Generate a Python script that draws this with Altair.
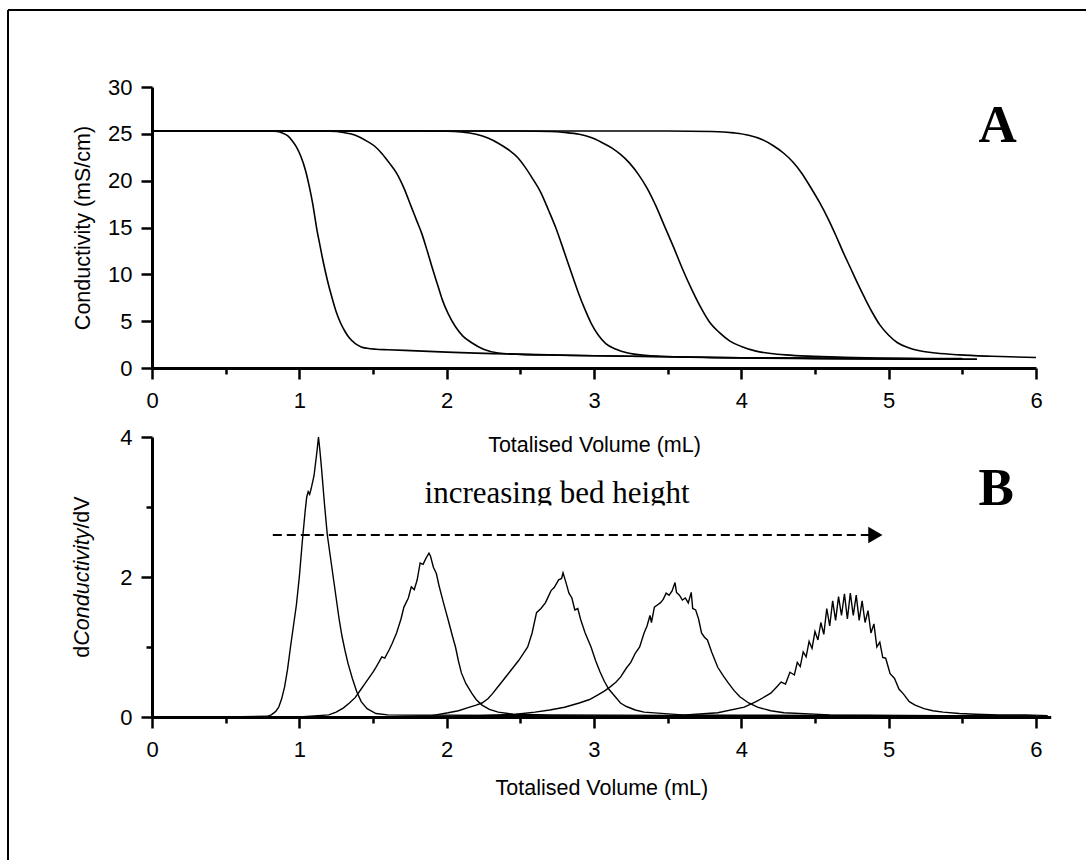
import altair as alt
import pandas as pd

# ---------------- Panel A: conductivity breakthrough curves ----------------
A1_X = [0, 0.5, 0.80, 0.85, 0.885, 0.92, 0.95, 0.98, 1.01, 1.04, 1.07, 1.09, 1.12, 1.14, 1.16, 1.19,
        1.22, 1.25, 1.28, 1.31, 1.34, 1.38, 1.42, 1.46, 1.52, 1.6, 2.0, 3.0, 4.0, 5.3]
A1_Y = [25.3, 25.3, 25.3, 25.25, 25.1, 24.8, 24.3, 23.6, 22.6, 21.2, 19.2, 17.6, 14.7, 13.1, 11.5, 9.4,
        7.6, 6.0, 4.8, 3.9, 3.2, 2.6, 2.25, 2.1, 2.0, 1.95, 1.7, 1.3, 1.1, 0.95]

A2_X = [0, 1.0, 1.2, 1.3, 1.38, 1.45, 1.51, 1.56, 1.61, 1.66, 1.71, 1.76, 1.80, 1.83, 1.87, 1.90,
        1.94, 1.97, 2.01, 2.06, 2.11, 2.17, 2.25, 2.35, 2.5, 2.7, 3.0, 4.0, 5.5]
A2_Y = [25.3, 25.3, 25.28, 25.15, 24.85, 24.3, 23.7, 22.9, 21.9, 20.8, 19.2, 17.2, 15.6, 14.4, 12.4, 10.8,
        8.8, 7.3, 5.8, 4.4, 3.4, 2.7, 2.0, 1.6, 1.45, 1.38, 1.3, 1.1, 0.95]

A3_X = [0, 1.8, 2.0, 2.1, 2.2, 2.28, 2.35, 2.42, 2.48, 2.53, 2.58, 2.64, 2.69, 2.74, 2.80, 2.85,
        2.89, 2.94, 2.98, 3.03, 3.08, 3.15, 3.23, 3.35, 3.45, 3.8, 4.5, 5.6]
A3_Y = [25.3, 25.3, 25.28, 25.2, 24.95, 24.55, 24.0, 23.3, 22.5, 21.5, 20.3, 18.7, 16.9, 15.0, 12.3, 10.0,
        8.2, 6.2, 4.8, 3.5, 2.6, 2.0, 1.6, 1.35, 1.25, 1.1, 1.0, 0.95]

A4_X = [0, 2.5, 2.7, 2.8, 2.9, 2.98, 3.05, 3.12, 3.18, 3.24, 3.30, 3.36, 3.42, 3.48, 3.54, 3.60,
        3.66, 3.72, 3.78, 3.85, 3.92, 4.0, 4.1, 4.2, 4.3, 4.7, 5.5]
A4_Y = [25.3, 25.3, 25.25, 25.15, 24.95, 24.6, 24.1, 23.5, 22.8, 21.9, 20.7, 19.2, 17.3, 15.1, 12.9, 10.6,
        8.5, 6.6, 5.0, 3.8, 2.9, 2.3, 1.8, 1.55, 1.4, 1.15, 1.0]

A5_X = [0, 3.5, 3.8, 3.95, 4.05, 4.14, 4.22, 4.29, 4.35, 4.41, 4.47, 4.53, 4.59, 4.64, 4.69, 4.74,
        4.79, 4.84, 4.89, 4.94, 5.0, 5.06, 5.13, 5.21, 5.32, 5.48, 5.7, 6.0]
A5_Y = [25.3, 25.3, 25.25, 25.1, 24.85, 24.4, 23.7, 22.9, 22.0, 20.8, 19.3, 17.7, 15.9, 14.2, 12.4, 10.7,
        9.0, 7.4, 5.9, 4.6, 3.5, 2.7, 2.2, 1.85, 1.6, 1.4, 1.25, 1.12]

# ---------------- Panel B: derivative peaks ----------------
B1_X = [0, 0.5, 0.78, 0.81, 0.84, 0.86, 0.88, 0.90, 0.92, 0.94, 0.96, 0.98, 1.00, 1.02, 1.04, 1.05,
        1.06, 1.07, 1.08, 1.10, 1.12, 1.13, 1.14, 1.15, 1.17, 1.19, 1.21, 1.23, 1.25, 1.27, 1.29,
        1.31, 1.33, 1.36, 1.39, 1.42, 1.46, 1.52, 1.6, 2.5, 4.0, 6.0]
B1_Y = [0, 0, 0.01, 0.03, 0.08, 0.14, 0.26, 0.43, 0.68, 1.0, 1.3, 1.6, 2.0, 2.5, 2.95, 3.14,
        3.22, 3.18, 3.26, 3.45, 3.8, 4.0, 3.8, 3.57, 3.06, 2.6, 2.3, 2.0, 1.7, 1.4, 1.15,
        0.95, 0.77, 0.55, 0.36, 0.22, 0.12, 0.05, 0.03, 0.02, 0.01, 0.01]

B2_X = [0, 1.0, 1.2, 1.25, 1.30, 1.34, 1.38, 1.42, 1.45, 1.50, 1.52, 1.56, 1.58, 1.61, 1.63, 1.66,
        1.69, 1.71, 1.74, 1.76, 1.78, 1.80, 1.82, 1.84, 1.86, 1.88, 1.89, 1.91, 1.93, 1.95, 1.98,
        2.01, 2.04, 2.06, 2.08, 2.10, 2.13, 2.17, 2.20, 2.24, 2.29, 2.35, 2.45, 2.7, 4.0, 6.0]
B2_Y = [0, 0, 0.03, 0.07, 0.13, 0.2, 0.28, 0.4, 0.49, 0.64, 0.71, 0.86, 0.84, 0.96, 1.05, 1.2,
        1.4, 1.57, 1.7, 1.86, 1.82, 1.96, 2.2, 2.18, 2.27, 2.34, 2.3, 2.14, 2.05, 1.86, 1.62,
        1.39, 1.15, 1.0, 0.8, 0.63, 0.48, 0.34, 0.25, 0.17, 0.11, 0.07, 0.04, 0.03, 0.02, 0.01]

B3_X = [0, 1.5, 1.9, 2.01, 2.08, 2.14, 2.20, 2.24, 2.28, 2.31, 2.34, 2.37, 2.43, 2.49, 2.55, 2.58,
        2.61, 2.64, 2.67, 2.69, 2.71, 2.73, 2.76, 2.78, 2.79, 2.81, 2.83, 2.85, 2.87, 2.89, 2.91,
        2.94, 2.98, 3.01, 3.04, 3.07, 3.10, 3.14, 3.18, 3.22, 3.28, 3.34, 3.6, 5.0, 6.0]
B3_Y = [0, 0, 0.02, 0.06, 0.09, 0.13, 0.17, 0.2, 0.26, 0.33, 0.41, 0.49, 0.65, 0.81, 1.0, 1.2,
        1.49, 1.55, 1.63, 1.72, 1.81, 1.85, 1.96, 1.98, 2.06, 1.92, 1.77, 1.7, 1.53, 1.55, 1.39,
        1.2, 1.0, 0.81, 0.65, 0.51, 0.4, 0.3, 0.2, 0.15, 0.1, 0.07, 0.03, 0.02, 0.01]

B4_X = [0, 2.0, 2.47, 2.6, 2.7, 2.8, 2.9, 2.97, 3.03, 3.07, 3.11, 3.15, 3.18, 3.22, 3.25, 3.28,
        3.31, 3.34, 3.36, 3.38, 3.39, 3.41, 3.43, 3.45, 3.47, 3.49, 3.51, 3.53, 3.55, 3.56, 3.58,
        3.60, 3.62, 3.64, 3.66, 3.67, 3.69, 3.71, 3.73, 3.75, 3.77, 3.80, 3.84, 3.88, 3.91, 3.95,
        3.99, 4.05, 4.11, 4.2, 4.29, 4.6, 6.0]
B4_Y = [0, 0, 0.04, 0.07, 0.1, 0.14, 0.2, 0.25, 0.32, 0.37, 0.43, 0.5, 0.57, 0.7, 0.78, 0.91,
        1.0, 1.2, 1.3, 1.45, 1.35, 1.57, 1.6, 1.63, 1.68, 1.77, 1.74, 1.8, 1.92, 1.78, 1.74,
        1.67, 1.7, 1.63, 1.78, 1.55, 1.53, 1.4, 1.2, 1.14, 1.1, 0.92, 0.71, 0.58, 0.49, 0.38,
        0.29, 0.2, 0.14, 0.09, 0.06, 0.03, 0.01]

B5_X = [0, 3.5, 3.84, 4.02, 4.10, 4.16, 4.20, 4.24, 4.27, 4.30, 4.33, 4.36, 4.38, 4.40, 4.42, 4.44,
        4.46, 4.48, 4.50, 4.52, 4.54, 4.56, 4.58, 4.60, 4.62, 4.64, 4.66, 4.68, 4.70, 4.72, 4.74,
        4.76, 4.78, 4.80, 4.82, 4.84, 4.86, 4.88, 4.90, 4.92, 4.94, 4.96, 4.98, 5.01, 5.04, 5.07,
        5.10, 5.14, 5.18, 5.24, 5.30, 5.37, 5.48, 5.59, 5.75, 5.93, 6.08]
B5_Y = [0, 0.01, 0.06, 0.14, 0.22, 0.29, 0.34, 0.43, 0.5, 0.47, 0.64, 0.6, 0.78, 0.72, 0.93, 0.86,
        1.08, 0.98, 1.22, 1.1, 1.35, 1.18, 1.55, 1.3, 1.66, 1.38, 1.72, 1.45, 1.76, 1.4, 1.77,
        1.45, 1.74, 1.38, 1.66, 1.35, 1.52, 1.2, 1.33, 1.0, 1.07, 0.85, 0.84, 0.62, 0.55, 0.4,
        0.33, 0.22, 0.17, 0.12, 0.09, 0.07, 0.05, 0.04, 0.03, 0.03, 0.02]

RUN_NAMES = ["run 1", "run 2", "run 3", "run 4", "run 5"]
X_TICKS = [0, 0.5, 1, 1.5, 2, 2.5, 3, 3.5, 4, 4.5, 5, 5.5, 6]
YA_TICKS = [0, 2.5, 5, 7.5, 10, 12.5, 15, 17.5, 20, 22.5, 25, 27.5, 30]
YB_TICKS = [0, 1, 2, 3, 4]

ARROW_X = [0.82]
ARROW_X2 = [4.87]
ARROW_Y = [2.6]
ARROW_HEAD_X = [4.91]
NOTE_X = [2.75]
NOTE_Y = [3.06]
NOTE_TEXT = "increasing bed height"
LABEL_A = ("A", 5.74, 24.1)
LABEL_B = ("B", 5.73, 3.03)


def long_df(pairs, xname, yname):
    frames = []
    for name, (xs, ys) in zip(RUN_NAMES, pairs):
        frames.append(pd.DataFrame({xname: xs, yname: ys, "run": name}))
    return pd.concat(frames, ignore_index=True)


dfA = long_df([(A1_X, A1_Y), (A2_X, A2_Y), (A3_X, A3_Y), (A4_X, A4_Y), (A5_X, A5_Y)], "vol", "cond")
dfB = long_df([(B1_X, B1_Y), (B2_X, B2_Y), (B3_X, B3_Y), (B4_X, B4_Y), (B5_X, B5_Y)], "vol", "dcond")

SANS = "Liberation Sans"
SERIF = "Liberation Serif"
TITLE_SIZE = 21.5


def tick_size(test):
    return {"condition": {"test": test, "value": 11}, "value": 6}


def x_axis(title_pad):
    return alt.Axis(
        values=X_TICKS,
        labelExpr="datum.value % 1 === 0 ? format(datum.value, 'd') : ''",
        tickSize=tick_size("datum.value % 1 === 0"),
        title="Totalised Volume (mL)",
        titlePadding=title_pad,
        labelPadding=11,
        labelFlush=False,
        labelOverlap=False,
        grid=False,
    )


one = pd.DataFrame({"k": [0]})

# ---------- Panel A ----------
linesA = alt.Chart(dfA).mark_line(color="black", strokeWidth=1.6, interpolate="monotone").encode(
    x=alt.X("vol:Q", scale=alt.Scale(domain=[0, 6], nice=False, zero=False), axis=x_axis(23)),
    y=alt.Y(
        "cond:Q",
        scale=alt.Scale(domain=[0, 30], nice=False),
        axis=alt.Axis(
            values=YA_TICKS,
            labelExpr="datum.value % 5 === 0 ? format(datum.value, 'd') : ''",
            tickSize=tick_size("datum.value % 5 === 0"),
            title="Conductivity (mS/cm)",
            titlePadding=13,
            labelPadding=9,
            labelOverlap=False,
            labelFlush=False,
            grid=False,
        ),
    ),
    detail="run:N",
)

labelA = alt.Chart(pd.DataFrame({"t": [LABEL_A[0]], "x": [LABEL_A[1]], "y": [LABEL_A[2]]})).mark_text(
    font=SERIF, fontSize=53, fontWeight="bold", align="center", baseline="alphabetic", color="black"
).encode(x="x:Q", y="y:Q", text="t:N")

frame_left = alt.Chart(one).mark_rule(color="black", strokeWidth=2).encode(
    x=alt.value(-144), y=alt.value(-77), y2=alt.value(773)
)
frame_top = alt.Chart(one).mark_rule(color="black", strokeWidth=2).encode(
    x=alt.value(-144), x2=alt.value(934), y=alt.value(-77)
)

panelA = alt.layer(frame_left, frame_top, linesA, labelA).properties(width=884, height=281)

# ---------- Panel B ----------
note = alt.Chart(pd.DataFrame({"t": [NOTE_TEXT], "x": NOTE_X, "y": NOTE_Y})).mark_text(
    font=SERIF, fontSize=31, align="center", baseline="alphabetic", color="black"
).encode(x=alt.X("x:Q"), y=alt.Y("y:Q"), text="t:N")

note_clip = alt.Chart(one).mark_rect(color="white").encode(
    x=alt.value(262), x2=alt.value(550), y=alt.value(68.5), y2=alt.value(82)
)

linesB = alt.Chart(dfB).mark_line(color="black", strokeWidth=1.4).encode(
    x=alt.X("vol:Q", scale=alt.Scale(domain=[0, 6.1], nice=False, zero=False), axis=x_axis(17)),
    y=alt.Y(
        "dcond:Q",
        scale=alt.Scale(domain=[0, 4], nice=False),
        axis=alt.Axis(
            values=YB_TICKS,
            labelExpr="datum.value % 2 === 0 ? format(datum.value, 'd') : ''",
            tickSize=tick_size("datum.value % 2 === 0"),
            title=None,
            labelPadding=9,
            labelOverlap=False,
            labelFlush=False,
            grid=False,
        ),
    ),
    detail="run:N",
)

arrow = alt.Chart(pd.DataFrame({"x": ARROW_X, "x2": ARROW_X2, "y": ARROW_Y})).mark_rule(
    color="black", strokeWidth=2, strokeDash=[9, 5]
).encode(x="x:Q", x2="x2:Q", y="y:Q")

arrow_head = alt.Chart(pd.DataFrame({"x": ARROW_HEAD_X, "y": ARROW_Y})).mark_point(
    shape="triangle-right", filled=True, color="black", size=270, opacity=1
).encode(x="x:Q", y="y:Q")

labelB = alt.Chart(pd.DataFrame({"t": [LABEL_B[0]], "x": [LABEL_B[1]], "y": [LABEL_B[2]]})).mark_text(
    font=SERIF, fontSize=53, fontWeight="bold", align="center", baseline="alphabetic", color="black"
).encode(x="x:Q", y="y:Q", text="t:N")

# y title with italic middle part: d + Conductivity (italic) + /dV
ytitle_d = alt.Chart(one).mark_text(
    font=SANS, fontSize=TITLE_SIZE, angle=270, align="left", baseline="alphabetic", color="black"
).encode(x=alt.value(-63), y=alt.value(220.7), text=alt.value("d"))
ytitle_c = alt.Chart(one).mark_text(
    font=SANS, fontSize=TITLE_SIZE, fontStyle="italic", angle=270, align="left", baseline="alphabetic", color="black"
).encode(x=alt.value(-63), y=alt.value(208.7), text=alt.value("Conductivity"))
ytitle_v = alt.Chart(one).mark_text(
    font=SANS, fontSize=TITLE_SIZE, angle=270, align="left", baseline="alphabetic", color="black"
).encode(x=alt.value(-63), y=alt.value(91.6), text=alt.value("/dV"))

panelB = alt.layer(
    note, note_clip, linesB, arrow, arrow_head, labelB, ytitle_d, ytitle_c, ytitle_v
).properties(width=898.7, height=280)

chart = (
    alt.vconcat(panelA, panelB, spacing=69, bounds="flush")
    .properties(padding={"left": 7, "top": 9, "right": 0, "bottom": 0}, background="white")
    .configure_view(stroke=None)
    .configure_axis(
        domainColor="black",
        domainWidth=3,
        tickColor="black",
        tickWidth=2.5,
        labelColor="black",
        labelFont=SANS,
        labelFontSize=22,
        titleColor="black",
        titleFont=SANS,
        titleFontSize=TITLE_SIZE,
        titleFontWeight="normal",
    )
)

chart.save("out.html", embed_options={"renderer": "svg", "actions": False})
